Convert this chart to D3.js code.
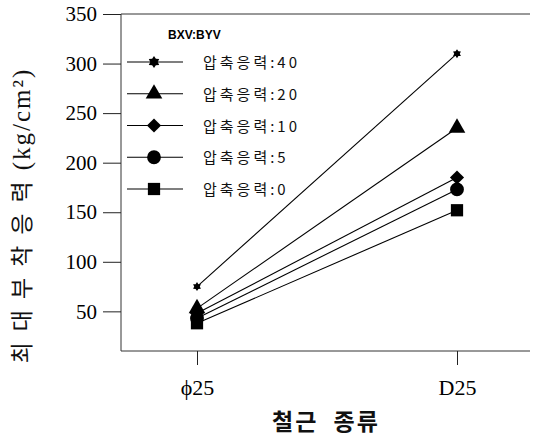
<!DOCTYPE html>
<html>
<head>
<meta charset="utf-8">
<script src="https://cdn.jsdelivr.net/npm/d3@7"></script>
<style>
  html, body { margin: 0; padding: 0; background: #fff; }
  svg { display: block; }
  .tick text { font-family: 'Liberation Serif', 'DejaVu Serif', serif; }
</style>
</head>
<body>
<svg id="chart" width="534" height="437"></svg>
<script>
// Bar types on the x axis
const categories = ["\u03D525", "D25"];
// Compressive stress levels (legend order, top to bottom)
const seriesNames = ["압축응력:40", "압축응력:20", "압축응력:10", "압축응력:5", "압축응력:0"];
const seriesSymbols = ["star", "triangle", "diamond", "circle", "square"];
// Maximum bond stress (kg/cm²) for each series at ϕ25 and D25
const stress40 = [75, 310];
const stress20 = [53, 235];
const stress10 = [48, 185];
const stress5 = [43, 173];
const stress0 = [38, 152];
const yTicks = [50, 100, 150, 200, 250, 300, 350];

const seriesValues = [stress40, stress20, stress10, stress5, stress0];

const svg = d3.select("#chart");
const plotLeft = 121, plotRight = 530, plotTop = 14, plotBottom = 351;

const x = d3.scalePoint().domain(categories).range([197, 457]);
const y = d3.scaleLinear().domain([10, 350]).range([plotBottom, plotTop]);

const serif = "'Liberation Serif', 'DejaVu Serif', serif";
const kr = "'Noto Sans CJK KR', sans-serif";

// Frame: top line plus the left and bottom axes
svg.append("line").attr("x1", plotLeft).attr("x2", plotRight).attr("y1", plotTop).attr("y2", plotTop)
  .attr("stroke", "#333").attr("stroke-width", 1);

const yAxis = svg.append("g").attr("transform", `translate(${plotLeft},0)`)
  .call(d3.axisLeft(y).tickValues(yTicks).tickSize(18).tickPadding(6));
yAxis.attr("font-family", serif);
yAxis.select(".domain").attr("d", `M0,${plotTop}V${plotBottom}`).attr("stroke", "#333");
yAxis.selectAll(".tick line").attr("stroke", "#222");
yAxis.selectAll(".tick text").style("font-family", serif).style("font-size", "21px").attr("fill", "#000");

const xAxis = svg.append("g").attr("transform", `translate(0,${plotBottom})`)
  .call(d3.axisBottom(x).tickSize(14).tickPadding(14));
xAxis.attr("font-family", serif);
xAxis.select(".domain").attr("d", `M${plotLeft},0H${plotRight}`).attr("stroke", "#333");
xAxis.selectAll(".tick line").attr("stroke", "#222");
xAxis.selectAll(".tick text").style("font-family", serif).style("font-size", "22px").attr("fill", "#000");

// Axis titles
const yTitle = svg.append("text")
  .attr("transform", `translate(30,${(plotTop + plotBottom) / 2 + 33}) rotate(-90)`)
  .attr("text-anchor", "middle")
  .attr("fill", "#111");
yTitle.append("tspan").style("font-family", kr).style("font-size", "23px")
  .style("letter-spacing", "11px").text("최대부착응력");
yTitle.append("tspan").style("font-family", serif).style("font-size", "25px")
  .style("letter-spacing", "2px").text("(kg/cm²)");

svg.append("text")
  .attr("x", 326).attr("y", 430)
  .attr("text-anchor", "middle")
  .style("font-family", kr).style("font-size", "23px").style("font-weight", "bold")
  .style("letter-spacing", "2px").style("word-spacing", "8px")
  .attr("fill", "#111")
  .text("철근 종류");

// Marker shapes
const symbolTypes = {
  triangle: d3.symbolTriangle,
  diamond: d3.symbolSquare,
  circle: d3.symbolCircle,
  square: d3.symbolSquare
};
const symbolSizes = { triangle: 120, diamond: 100, circle: 150, square: 150 };

function hexagram(r) {
  const pts = [];
  for (let i = 0; i < 12; i++) {
    const a = -Math.PI / 2 + i * Math.PI / 6;
    const rr = i % 2 === 0 ? r : r * 0.62;
    pts.push([rr * Math.cos(a), rr * Math.sin(a)]);
  }
  return "M" + pts.map(p => p.join(",")).join("L") + "Z";
}

function drawMarker(g, kind, cx, cy, scale) {
  let d;
  if (kind === "star") d = hexagram(6 * scale);
  else d = d3.symbol().type(symbolTypes[kind]).size(symbolSizes[kind] * scale * scale)();
  const rot = kind === "diamond" ? " rotate(45)" : "";
  g.append("path").attr("d", d).attr("transform", `translate(${cx},${cy})${rot}`).attr("fill", "#000");
}

// Series lines and markers
const line = d3.line().x((d, i) => x(categories[i])).y(d => y(d));
seriesValues.forEach(vals => {
  svg.append("path").datum(vals).attr("d", line)
    .attr("fill", "none").attr("stroke", "#000").attr("stroke-width", 1.1);
});
seriesValues.forEach((vals, s) => {
  const g = svg.append("g");
  vals.forEach((v, i) => drawMarker(g, seriesSymbols[s], x(categories[i]), y(v), s === 0 ? 0.75 : 1));
});

// Legend
svg.append("text").attr("x", 168).attr("y", 39)
  .style("font-family", "'Liberation Sans', Arial, sans-serif").style("font-size", "12px")
  .style("font-weight", "bold").attr("fill", "#000").text("BXV:BYV");

const legendY = d3.scalePoint().domain(seriesNames).range([62, 189]);
seriesNames.forEach((name, s) => {
  const ly = legendY(name);
  const g = svg.append("g");
  g.append("line").attr("x1", 127).attr("x2", 183).attr("y1", ly).attr("y2", ly)
    .attr("stroke", "#000").attr("stroke-width", 1.1);
  drawMarker(g, seriesSymbols[s], 154, ly, 1);
  g.append("text").attr("x", 203).attr("y", ly + 6)
    .style("font-family", kr).style("font-size", "15px").style("letter-spacing", "3px")
    .attr("fill", "#111").text(name);
});
</script>
</body>
</html>
